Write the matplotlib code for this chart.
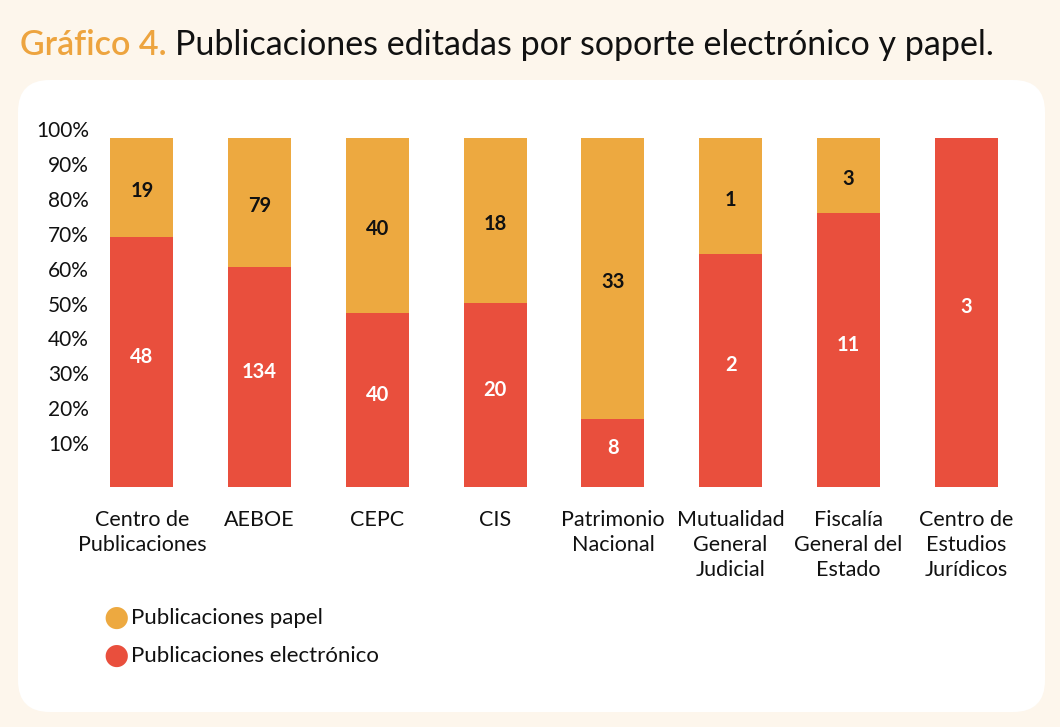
import matplotlib
matplotlib.use("Agg")
import matplotlib.pyplot as plt
from matplotlib.patches import FancyBboxPatch
import matplotlib.transforms as mtransforms
import numpy as np

categories = ["Centro de\nPublicaciones", "AEBOE", "CEPC", "CIS", "Patrimonio\nNacional",
              "Mutualidad\nGeneral\nJudicial", "Fiscalía\nGeneral del\nEstado",
              "Centro de\nEstudios\nJurídicos"]
electronico = [48, 134, 40, 20, 8, 2, 11, 3]
papel = [19, 79, 40, 18, 33, 1, 3, 0]
ytick_vals = [10, 20, 30, 40, 50, 60, 70, 80, 90, 100]

C_PAPEL = "#EDA940"
C_ELEC = "#E94F3D"
BG = "#FDF6EC"
FONT = "Lato"

plt.rcParams['font.family'] = [FONT, 'DejaVu Sans']

W, H = 1060, 727
fig = plt.figure(figsize=(W/100, H/100), dpi=100)
fig.patch.set_facecolor(BG)

# white rounded panel
panel = FancyBboxPatch((18/W, 15/H), (1045-18)/W, (647-15)/H,
                       boxstyle="round,pad=0,rounding_size=0.03",
                       transform=fig.transFigure, facecolor="white", edgecolor="none",
                       mutation_aspect=W/H, zorder=-10)
fig.patches.append(panel)

t1 = fig.text(20/W, 1-45/H, "Gráfico 4.", color="#EDA43F", fontsize=24.5, va="center", ha="left",
              fontweight="semibold")
fig.canvas.draw()
bb = t1.get_window_extent()
fig.text((bb.x1 + 8)/W, 1-45/H, "Publicaciones editadas por soporte electrónico y papel.",
         color="#111111", fontsize=24.5, va="center", ha="left")

left_px, right_px = 83, 1025
top_px, bot_px = 138, 487
ax = fig.add_axes([left_px/W, 1-bot_px/H, (right_px-left_px)/W, (bot_px-top_px)/H])
ax.set_facecolor("none")
ax.set_zorder(5)

e = np.array(electronico, float)
p = np.array(papel, float)
tot = e + p
ep = e / tot * 100
pp = p / tot * 100
x = np.arange(len(categories))
bw = 0.535
ax.bar(x, ep, width=bw, color=C_ELEC, label="Publicaciones electrónico")
ax.bar(x, pp, bottom=ep, width=bw, color=C_PAPEL, label="Publicaciones papel")

for i in range(len(x)):
    ax.text(x[i], ep[i]/2 + 1.5, str(electronico[i]), ha="center", va="center", color="white",
            fontsize=14.5, fontweight="bold")
    if papel[i] > 0:
        ax.text(x[i], ep[i] + pp[i]/2 - 1, str(papel[i]), ha="center", va="center", color="#111111",
                fontsize=14.5, fontweight="bold")

ax.set_xlim(-0.5, len(categories)-0.5)
ax.set_ylim(0, 100)
for s in ax.spines.values():
    s.set_visible(False)
ax.set_xticks([])
ax.set_yticks([])

trans = mtransforms.blended_transform_factory(fig.transFigure, ax.transData)
off = mtransforms.ScaledTranslation(0, 7/100, fig.dpi_scale_trans)
for v in ytick_vals:
    ax.text(89/W, v, f"{v}%", ha="right", va="center", fontsize=15, color="#111111",
            transform=trans + off, clip_on=False)

for i, c in enumerate(categories):
    ax.text(x[i], -6.5, c, ha="center", va="top", fontsize=15.5, color="#111111",
            linespacing=1.32, transform=ax.transData, clip_on=False)

# legend
for yy, col, lab in [(618, C_PAPEL, "Publicaciones papel"), (656, C_ELEC, "Publicaciones electrónico")]:
    fig.text(116/W, 1-yy/H, "●", color=col, fontsize=21, ha="center", va="center",
             family="DejaVu Sans")
    fig.text(131/W, 1-yy/H, lab, color="#111111", fontsize=16, ha="left", va="center")

fig.savefig("out.png", dpi=100, facecolor=BG)
